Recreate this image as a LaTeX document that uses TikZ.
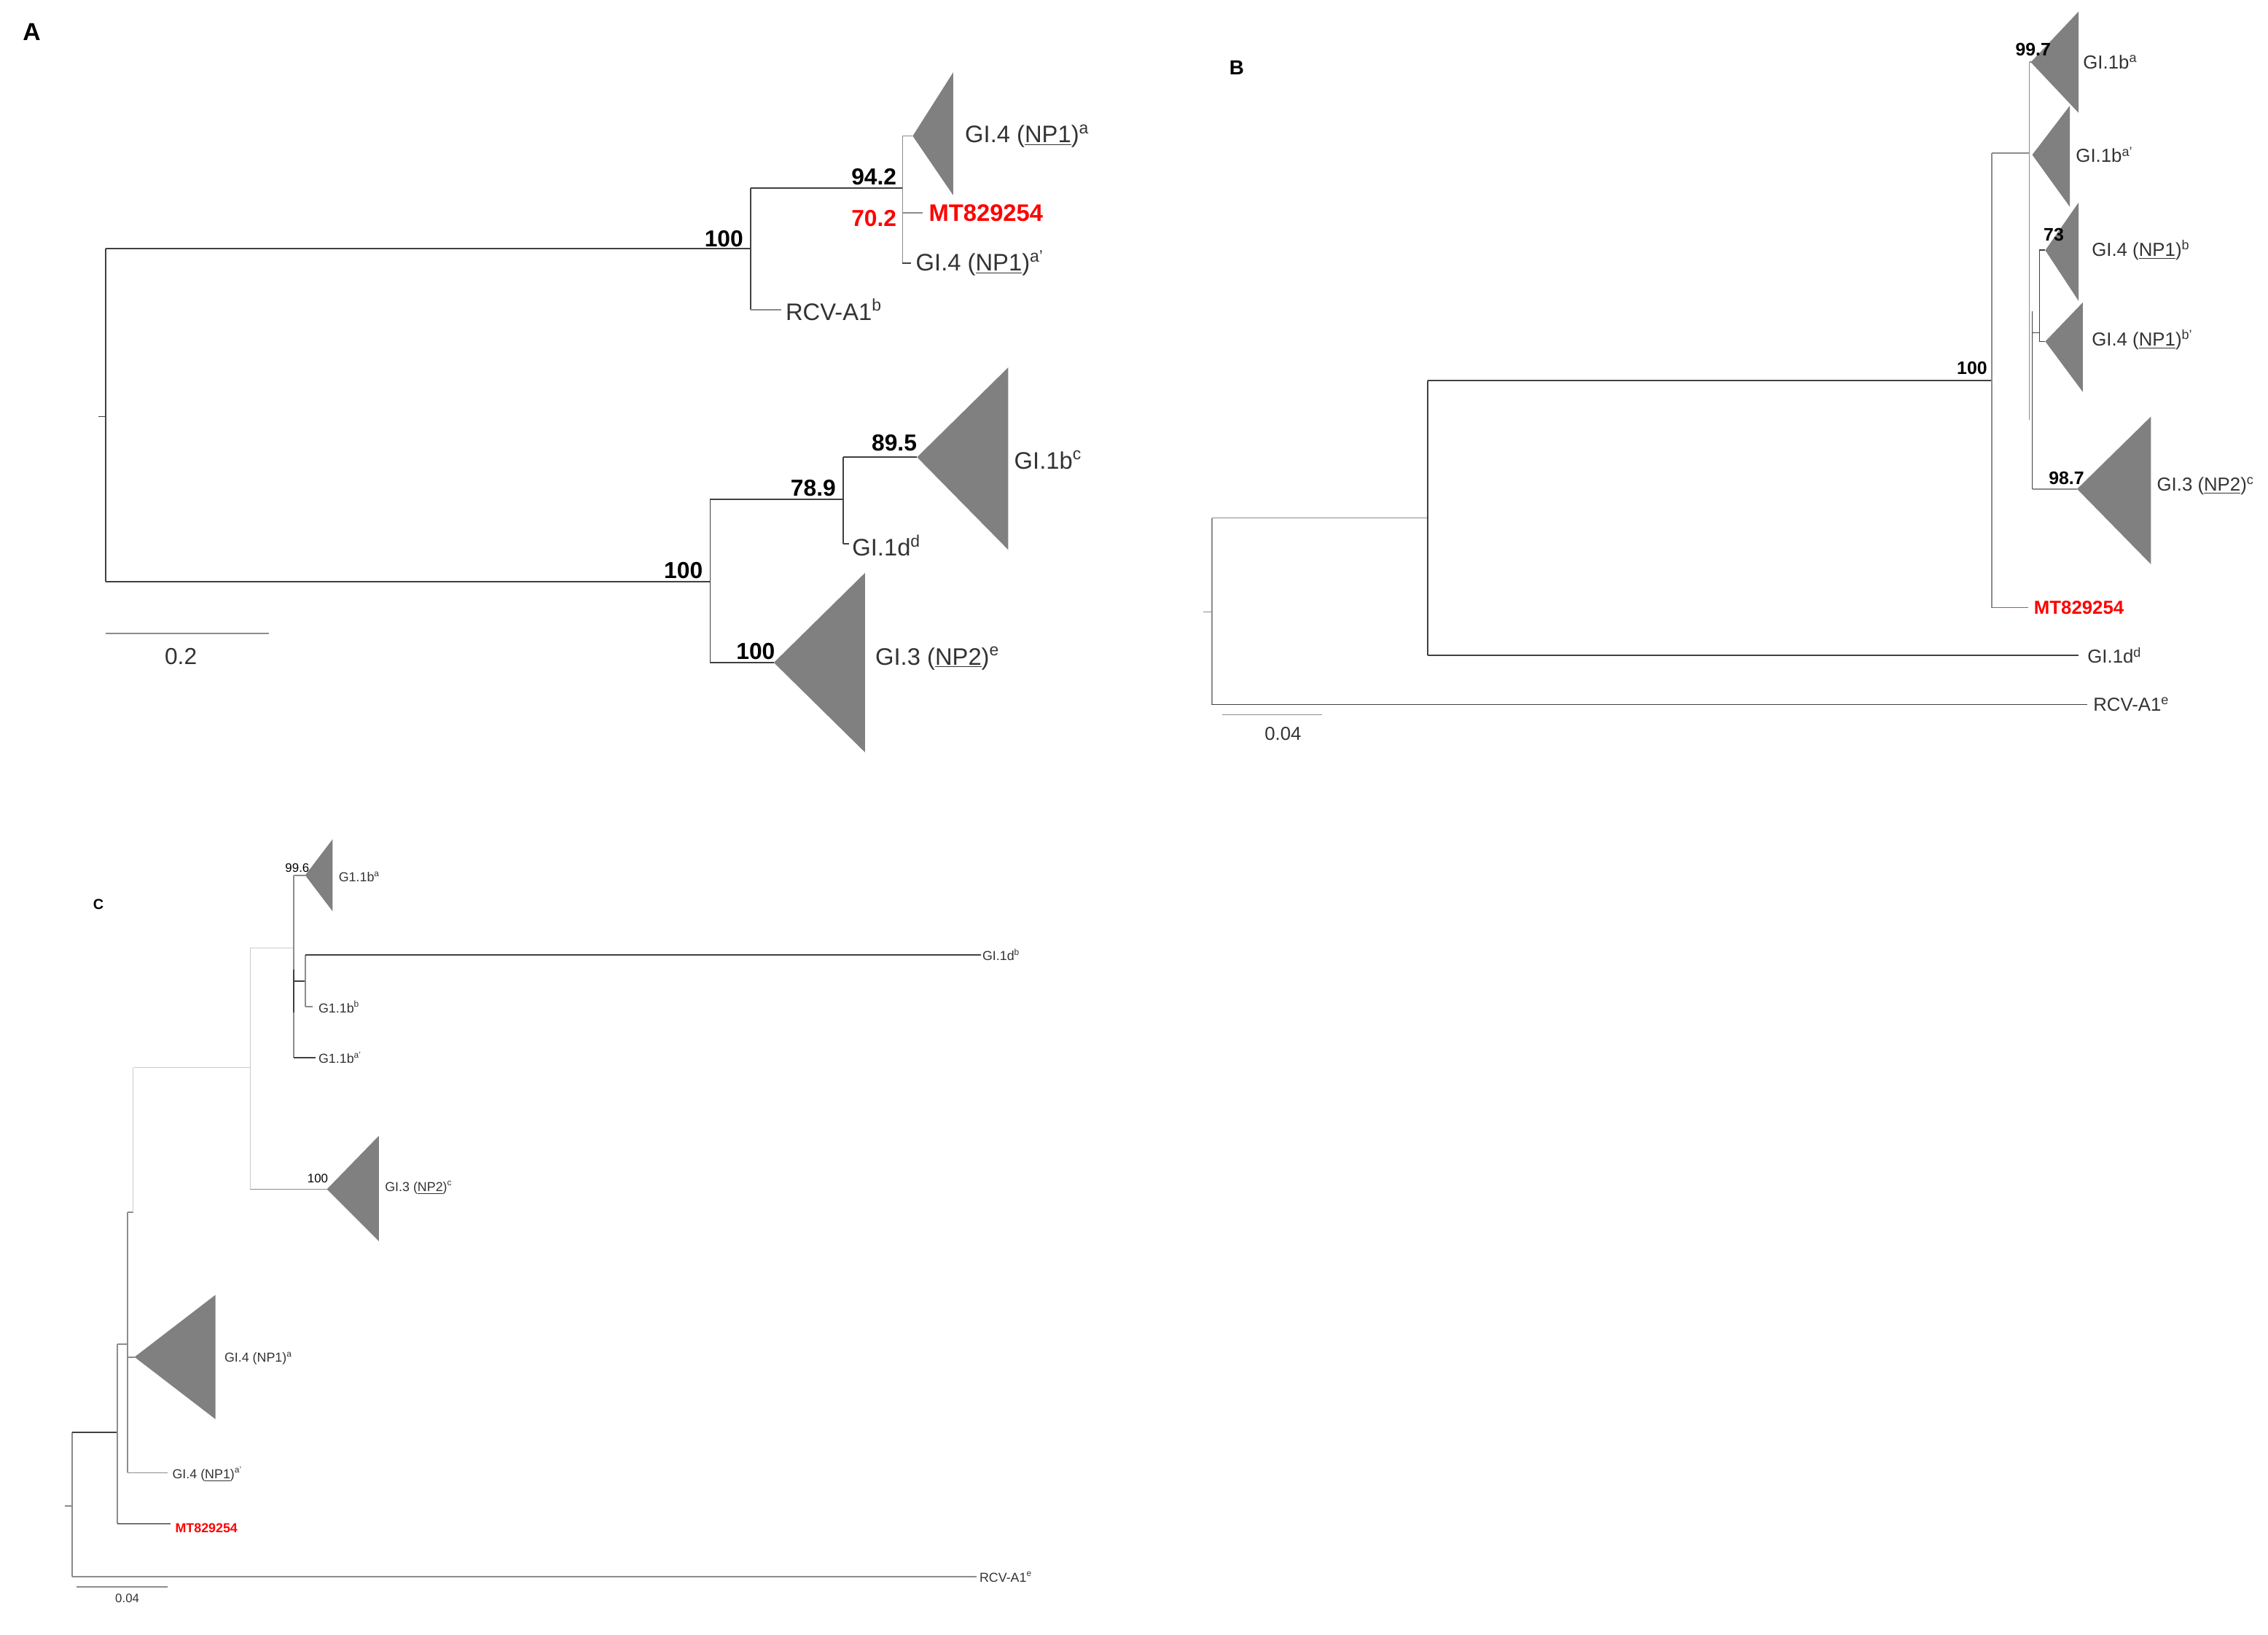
\documentclass[tikz,border=0pt]{standalone}
\usepackage{fontspec}
\setmainfont{Liberation Sans}
\begin{document}
\begin{tikzpicture}[x=1pt,y=-1pt,
  br/.style={line width=0.9pt,draw=black!75},
  lb/.style={line width=0.9pt,draw=black!45},
  tri/.style={fill=black!50,draw=none},
  la/.style={anchor=west,inner sep=1pt,font=\fontsize{16.5}{16.5}\selectfont,text=black!80},
  lbB/.style={anchor=west,inner sep=1pt,font=\fontsize{13}{13}\selectfont,text=black!80},
  lbC/.style={anchor=west,inner sep=1pt,font=\fontsize{9}{9}\selectfont,text=black!80},
  bsA/.style={anchor=south east,inner sep=1pt,font=\bfseries\fontsize{16}{16}\selectfont},
  bsB/.style={anchor=south east,inner sep=1pt,font=\bfseries\fontsize{12.5}{12.5}\selectfont},
  bsC/.style={anchor=south east,inner sep=1pt,font=\fontsize{8.5}{8.5}\selectfont},
  red/.style={text=red}]
\useasboundingbox (0,0) rectangle (1568,1130);
% ===== Panel A =====
\node[font=\bfseries\fontsize{17}{17}\selectfont] (LA) at (22,22) {A};
\coordinate (a0t) at (73,172); \coordinate (a0b) at (73,402);
\draw[br] (a0t) -- (a0b); \draw[br] (68,288) -- (73,288);
\coordinate (a1) at (519,172);
\draw[br] (a0t) -- (a1);
\draw[br] (519,130) -- (519,214);
\node[bsA] (A100a) at (515,172) {100};
\draw[br] (519,130) -- (624,130);
\node[bsA] (A942) at (621,129) {94.2};
\draw[lb] (624,94) -- (624,182);
\draw[lb] (624,94) -- (631,94);
\path[tri] (631,94) -- (659,50) -- (659,135) -- cycle;
\node[la] (A_gi4a) at (666,94) {GI.4 (\underline{NP1})\textsuperscript{a}};
\draw[lb] (624,147) -- (638,147);
\node[la,red,font=\bfseries\fontsize{16.5}{16.5}\selectfont] (A_mt) at (641,147) {MT829254};
\node[bsA,red,anchor=north east] (A702) at (621,144) {70.2};
\draw[br] (624,182) -- (630,182);
\node[la] (A_gi4ap) at (632,182) {GI.4 (\underline{NP1})\textsuperscript{a'}};
\draw[lb] (519,214) -- (540,214);
\node[la] (A_rcv) at (542,214) {RCV-A1\textsuperscript{b}};
\draw[br] (a0b) -- (491,402);
\draw[br] (491,345) -- (491,458);
\node[bsA] (A100b) at (487,401) {100};
\draw[br] (491,345) -- (583,345);
\node[bsA] (A789) at (579,344) {78.9};
\draw[br] (583,316) -- (583,376);
\draw[br] (583,316) -- (634,316);
\path[tri] (634,316) -- (697,254) -- (697,380) -- cycle;
\node[bsA] (A895) at (635,313) {89.5};
\node[la] (A_gi1b) at (700,318) {GI.1b\textsuperscript{c}};
\draw[br] (583,376) -- (587,376);
\node[la] (A_gi1d) at (588,377) {GI.1d\textsuperscript{d}};
\draw[br] (491,458) -- (535,458);
\path[tri] (535,458) -- (598,396) -- (598,520) -- cycle;
\node[bsA] (A100c) at (537,457) {100};
\node[la] (A_gi3) at (604,455) {GI.3 (\underline{NP2})\textsuperscript{e}};
\draw[lb] (73,438) -- (186,438);
\node[font=\fontsize{16}{16}\selectfont,text=black!80] (A_sc) at (125,454) {0.2};
% ===== Panel B =====
\node[font=\bfseries\fontsize{14}{14}\selectfont] (LB) at (855,47) {B};
\draw[lb] (838,358) -- (838,487); \draw[lb] (832,423) -- (838,423);
\draw[lb] (838,358) -- (987,358);
\draw[br] (987,263) -- (987,453);
\draw[br] (987,263) -- (1377,263);
\node[bsB] (B100) at (1375,260) {100};
\draw[lb] (1377,106) -- (1377,420);
\draw[lb] (1377,106) -- (1403,106);
\draw[lb] (1403,43) -- (1403,290);
\draw[lb] (1403,43) -- (1410,43);
\path[tri] (1404,43) -- (1437,8) -- (1437,78) -- cycle;
\node[bsB] (B997) at (1419,40) {99.7};
\node[lbB] (B_1ba) at (1439,43) {GI.1b\textsuperscript{a}};
\path[tri] (1405,107) -- (1431,73) -- (1431,143) -- cycle;
\node[lbB] (B_1bap) at (1434,107) {GI.1b\textsuperscript{a'}};
\draw[br] (1405,215) -- (1405,338);
\draw[br] (1405,230) -- (1410,230);
\draw[br] (1410,173) -- (1410,236);
\draw[br] (1410,173) -- (1414,173);
\path[tri] (1414,173) -- (1437,140) -- (1437,208) -- cycle;
\node[bsB] (B73) at (1428,168) {73};
\node[lbB] (B_4b) at (1445,173) {GI.4 (\underline{NP1})\textsuperscript{b}};
\draw[br] (1410,236) -- (1414,236);
\path[tri] (1414,236) -- (1440,209) -- (1440,271) -- cycle;
\node[lbB] (B_4bp) at (1445,235) {GI.4 (\underline{NP1})\textsuperscript{b'}};
\draw[lb] (1405,338) -- (1436,338);
\path[tri] (1436,338) -- (1487,288) -- (1487,390) -- cycle;
\node[bsB] (B987) at (1442,336) {98.7};
\node[lbB] (B_gi3) at (1490,336) {GI.3 (\underline{NP2})\textsuperscript{c}};
\draw[red!80] (1377,420) -- (1402,420);
\node[lbB,red,font=\bfseries\fontsize{13}{13}\selectfont] (B_mt) at (1405,420) {MT829254};
\draw[br] (987,453) -- (1437,453);
\node[lbB] (B_gi1d) at (1442,453) {GI.1d\textsuperscript{d}};
\draw[br] (838,487) -- (1443,487);
\node[lbB] (B_rcv) at (1446,487) {RCV-A1\textsuperscript{e}};
\draw[lb] (845,494) -- (914,494);
\node[font=\fontsize{13}{13}\selectfont,text=black!80] (B_sc) at (887,507) {0.04};
% ===== Panel C =====
\node[font=\bfseries\fontsize{10}{10}\selectfont] (LC) at (68,625) {C};
\draw[lb] (50,990) -- (50,1090); \draw[lb] (45,1041) -- (50,1041);
\draw[br] (50,990) -- (81,990);
\draw[lb] (81,929) -- (81,1053);
\draw[lb] (50,1090) -- (675,1090);
\node[lbC] (C_rcv) at (676,1090) {RCV-A1\textsuperscript{e}};
\draw[red] (81,1053) -- (118,1053);
\node[lbC,red,font=\bfseries\fontsize{9}{9}\selectfont] (C_mt) at (120,1056) {MT829254};
\draw[lb] (81,929) -- (88,929);
\draw[lb] (88,838) -- (88,1018);
\draw[lb] (88,1018) -- (116,1018);
\node[lbC] (C_4ap) at (118,1019) {GI.4 (\underline{NP1})\textsuperscript{a'}};
\draw[lb] (88,938) -- (93,938);
\path[tri] (93,938) -- (149,895) -- (149,981) -- cycle;
\node[lbC] (C_4a) at (154,939) {GI.4 (NP1)\textsuperscript{a}};
\draw[lb] (88,838) -- (92,838);
\draw[black!20] (92,738) -- (92,838);
\draw[black!20] (92,738) -- (173,738);
\draw[black!20] (173,655) -- (173,822);
\draw[lb] (173,822) -- (226,822);
\path[tri] (226,822) -- (262,785) -- (262,858) -- cycle;
\node[bsC] (C100) at (228,819) {100};
\node[lbC] (C_gi3) at (265,821) {GI.3 (\underline{NP2})\textsuperscript{c}};
\draw[black!20] (173,655) -- (203,655);
\draw[lb] (203,605) -- (203,731);
\draw[lb] (203,605) -- (211,605);
\path[tri] (211,605) -- (230,580) -- (230,630) -- cycle;
\node[bsC] (C996) at (215,604) {99.6};
\node[lbC] (C_1ba) at (233,606) {G1.1b\textsuperscript{a}};
\draw[br] (203,678) -- (211,678);
\draw[br] (203,670) -- (203,700);
\draw[lb] (211,660) -- (211,696);
\draw[br] (211,660) -- (678,660);
\node[lbC] (C_1d) at (678,660) {GI.1d\textsuperscript{b}};
\draw[lb] (211,696) -- (216,696);
\node[lbC] (C_1bb) at (219,696) {G1.1b\textsuperscript{b}};
\draw[br] (203,731) -- (218,731);
\node[lbC] (C_1bap) at (219,731) {G1.1b\textsuperscript{a'}};
\draw[lb] (53,1097) -- (116,1097);
\node[font=\fontsize{8.5}{8.5}\selectfont,text=black!80] (C_sc) at (88,1105) {0.04};
\end{tikzpicture}
\end{document}
